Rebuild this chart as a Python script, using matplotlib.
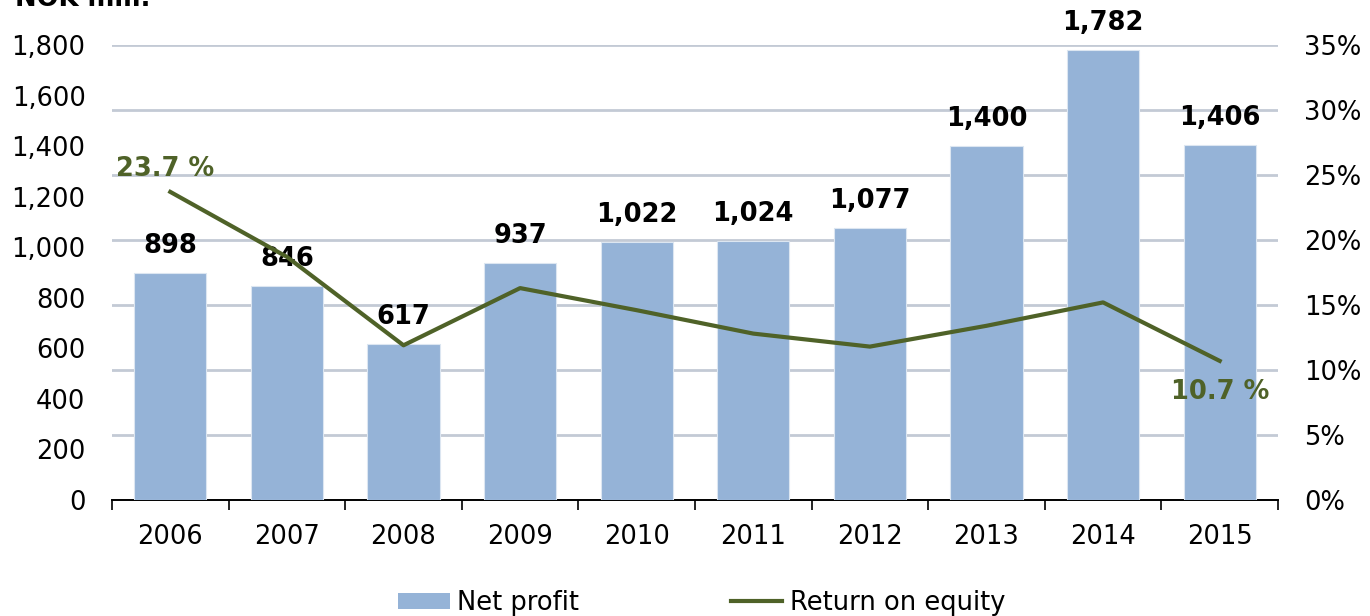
import matplotlib
matplotlib.use("Agg")
import matplotlib.pyplot as plt
from matplotlib.patches import Patch
from matplotlib.lines import Line2D

years = ["2006", "2007", "2008", "2009", "2010", "2011", "2012", "2013", "2014", "2015"]
net_profit = [898, 846, 617, 937, 1022, 1024, 1077, 1400, 1782, 1406]
roe = [23.7, 18.7, 11.9, 16.3, 14.6, 12.8, 11.8, 13.4, 15.2, 10.7]
left_ticks = [0, 200, 400, 600, 800, 1000, 1200, 1400, 1600, 1800]
right_ticks = [0, 5, 10, 15, 20, 25, 30, 35]

BAR = "#95b3d7"
LINE = "#4f6228"
GRID = "#c3cad5"
FS = 18.5

plt.rcParams["font.family"] = ["DejaVu Sans"]

W, H = 1370, 616
fig = plt.figure(figsize=(W / 100, H / 100), dpi=100)
rect = [112 / W, 1 - 500 / H, (1278 - 112) / W, (500 - 45) / H]

x = list(range(len(years)))

# base axes: percentage scale, gridlines, category axis
ax = fig.add_axes(rect)
ax.set_xlim(-0.5, len(years) - 0.5)
ax.set_ylim(0, 35)
ax.grid(axis="y", color=GRID, linewidth=2)
ax.set_xticks(x)
ax.set_xticklabels(years, fontsize=FS)
ax.set_xticks([i - 0.5 for i in range(len(years) + 1)], minor=True)
ax.tick_params(axis="x", which="major", length=0, pad=17)
ax.tick_params(axis="x", which="minor", length=7, width=1.2, direction="out")
for s in ["top", "left", "right"]:
    ax.spines[s].set_visible(False)
ax.spines["bottom"].set_linewidth(1.4)
ax.spines["bottom"].set_zorder(5)

# bars on the NOK scale
axb = ax.twinx()
axb.patch.set_visible(False)
axb.set_ylim(0, 1800)
for s in axb.spines.values():
    s.set_visible(False)
axb.bar(x, net_profit, width=0.62, color=BAR, edgecolor="#dce6f1", linewidth=0.8)
for xi, v in zip(x, net_profit):
    axb.annotate(f"{v:,}", (xi, v), xytext=(0, 10), textcoords="offset points",
                 ha="center", va="bottom", fontsize=FS, fontweight="bold")
axb.yaxis.tick_left()
axb.set_yticks(left_ticks)
axb.set_yticklabels([f"{t:,}" for t in left_ticks], fontsize=FS)
axb.tick_params(axis="y", length=0, pad=19)

# return on equity line
axl = ax.twinx()
axl.patch.set_visible(False)
axl.set_ylim(0, 35)
axl.set_yticks([])
for s in axl.spines.values():
    s.set_visible(False)
axl.plot(x, roe, color=LINE, linewidth=3)
axl.annotate(f"{roe[0]} %", (x[0], roe[0]), xytext=(-4, 7), textcoords="offset points",
             ha="center", va="bottom", fontsize=FS, fontweight="bold", color=LINE)
axl.annotate(f"{roe[-1]} %", (x[-1], roe[-1]), xytext=(0, -13), textcoords="offset points",
             ha="center", va="top", fontsize=FS, fontweight="bold", color=LINE)

# percentage labels on the right of the base axes
ax.yaxis.tick_right()
ax.set_yticks(right_ticks)
ax.set_yticklabels([f"{t}%" for t in right_ticks], fontsize=FS)
ax.tick_params(axis="y", length=0, pad=19)

fig.text(15 / W, 1 - 6 / H, "NOK mill.", fontsize=FS, fontweight="bold", va="baseline")

handles = [Patch(facecolor=BAR, edgecolor="none"), Line2D([], [], color=LINE, linewidth=3)]
fig.legend(handles, ["Net profit", "Return on equity"], loc="center",
           bbox_to_anchor=(702 / W, 1 - 603 / H), ncol=2, frameon=False,
           fontsize=FS, handlelength=2.0, handleheight=0.6, handletextpad=0.3,
           columnspacing=5.9)

fig.savefig("out.png", dpi=100)
